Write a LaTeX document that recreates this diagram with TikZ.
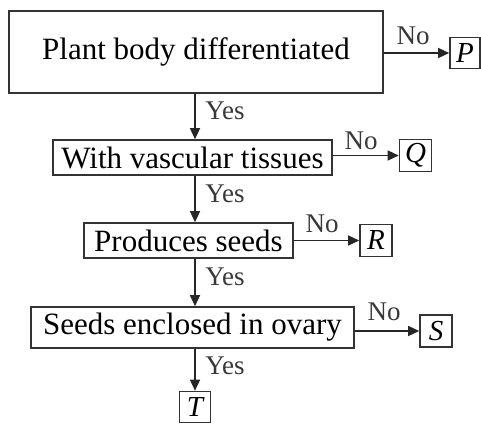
\documentclass[tikz,border=0pt]{standalone}
\usepackage{fontspec}
\setmainfont{Liberation Serif}
\usetikzlibrary{arrows.meta,positioning}

\begin{document}
\begin{tikzpicture}[x=1pt,y=-1pt,
  qbox/.style={draw=black!80,line width=1.6pt,inner sep=0pt,font=\fontsize{31}{37}\selectfont},
  abox/.style={draw=black!80,line width=1.6pt,inner sep=0pt,minimum width=32pt,minimum height=32pt,font=\fontsize{29}{34}\selectfont\itshape},
  arr/.style={-{Triangle[length=11pt,width=10pt]},line width=1.4pt,draw=black!85},
  lbl/.style={font=\fontsize{27}{32}\selectfont,text=black!78}]
\useasboundingbox (0,0) rectangle (481,423);
% questions
\node[qbox,minimum width=374pt,minimum height=82pt] (diff) at (196,52) {Plant body differentiated};
\node[qbox,minimum width=279pt,minimum height=35pt] (vasc) at (192.5,157.5) {With vascular tissues};
\node[qbox,minimum width=209pt,minimum height=35pt] (seeds) at (188.5,240.5) {Produces seeds};
\node[qbox,minimum width=323pt,minimum height=41pt] (ovary) at (192.5,327.5) {Seeds enclosed in ovary};
% answers
\node[abox,minimum width=30pt,minimum height=31pt] (P) at (465,53) {P};
\node[abox] (Q) at (415.5,155.5) {Q};
\node[abox] (R) at (376,240.5) {R};
\node[abox] (S) at (436,331) {S};
\node[abox,minimum width=31pt,minimum height=31pt] (T) at (195,407) {T};
% No branches
\draw[arr] (diff.east |- P.west) -- (P.west);
\draw[arr] (vasc.east |- Q.west) -- (Q.west);
\draw[arr] (seeds.east |- R.west) -- (R.west);
\draw[arr] (ovary.east |- S.west) -- (S.west);
\node[lbl] (noP) at (413,36) {No};
\node[lbl] (noQ) at (361,141) {No};
\node[lbl] (noR) at (322,224) {No};
\node[lbl] (noS) at (384,312) {No};
% Yes branches
\draw[arr] (diff.south -| T) -- (vasc.north -| T);
\draw[arr] (vasc.south -| T) -- (seeds.north -| T);
\draw[arr] (seeds.south -| T) -- (ovary.north -| T);
\draw[arr] (ovary.south -| T) -- (T.north);
\node[lbl] (yes1) at (225,111) {Yes};
\node[lbl] (yes2) at (225,194) {Yes};
\node[lbl] (yes3) at (225,277) {Yes};
\node[lbl] (yes4) at (225,366) {Yes};
\end{tikzpicture}
\end{document}
